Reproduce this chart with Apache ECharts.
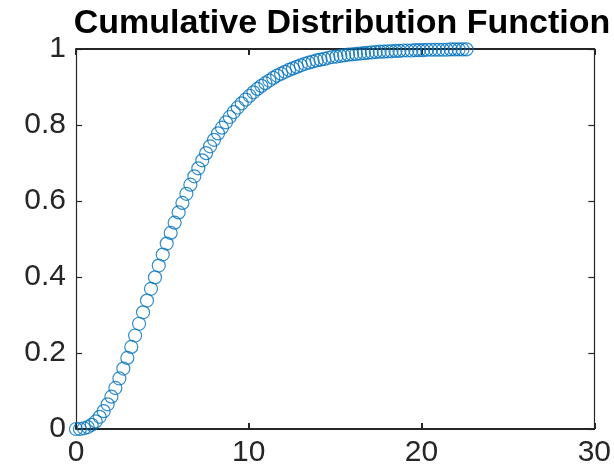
<!DOCTYPE html>
<html>
<head>
<meta charset="utf-8">
<script src="https://cdn.jsdelivr.net/npm/echarts@6/dist/echarts.min.js"></script>
<style>
  html, body { margin: 0; padding: 0; background: #fff; }
  #chart { width: 614px; height: 474px; }
</style>
</head>
<body>
<div id="chart"></div>
<script>
// Sample points of the cumulative distribution
const xValues = [
  0, 0.23, 0.46, 0.68, 0.91, 1.14, 1.37, 1.60, 1.83, 2.05,
  2.28, 2.51, 2.74, 2.97, 3.20, 3.42, 3.65, 3.88, 4.11, 4.34,
  4.57, 4.79, 5.02, 5.25, 5.48, 5.71, 5.94, 6.16, 6.39, 6.62,
  6.85, 7.08, 7.31, 7.53, 7.76, 7.99, 8.22, 8.45, 8.68, 8.90,
  9.13, 9.36, 9.59, 9.82, 10.05, 10.27, 10.50, 10.73, 10.96, 11.19,
  11.42, 11.64, 11.87, 12.10, 12.33, 12.56, 12.78, 13.01, 13.24, 13.47,
  13.70, 13.93, 14.15, 14.38, 14.61, 14.84, 15.07, 15.30, 15.52, 15.75,
  15.98, 16.21, 16.44, 16.67, 16.89, 17.12, 17.35, 17.58, 17.81, 18.04,
  18.26, 18.49, 18.72, 18.95, 19.18, 19.41, 19.63, 19.86, 20.09, 20.32,
  20.55, 20.78, 21.00, 21.23, 21.46, 21.69, 21.92, 22.15, 22.37, 22.60
];
const cdfValues = [
  0.000, 0.000, 0.002, 0.005, 0.011, 0.020, 0.032, 0.047, 0.065, 0.085,
  0.108, 0.133, 0.159, 0.187, 0.216, 0.246, 0.277, 0.307, 0.338, 0.369,
  0.399, 0.430, 0.459, 0.488, 0.516, 0.543, 0.570, 0.595, 0.619, 0.643,
  0.665, 0.686, 0.707, 0.726, 0.744, 0.761, 0.778, 0.793, 0.807, 0.821,
  0.834, 0.846, 0.857, 0.867, 0.877, 0.886, 0.895, 0.903, 0.910, 0.917,
  0.924, 0.930, 0.935, 0.940, 0.945, 0.949, 0.953, 0.957, 0.961, 0.964,
  0.967, 0.970, 0.972, 0.974, 0.977, 0.979, 0.980, 0.982, 0.983, 0.985,
  0.986, 0.987, 0.988, 0.989, 0.990, 0.991, 0.992, 0.993, 0.993, 0.994,
  0.994, 0.995, 0.995, 0.996, 0.996, 0.996, 0.997, 0.997, 0.997, 0.998,
  0.998, 0.998, 0.998, 0.998, 0.998, 0.999, 0.999, 0.999, 0.999, 0.999
];
const xTicks = { min: 0, max: 30, step: 10 };
const yTicks = { min: 0, max: 1, step: 0.2 };
const titleText = 'Cumulative Distribution Function';

const points = xValues.map((x, i) => [x, cdfValues[i]]);

const ink = '#262626';
const font = 'Liberation Sans, Arial, Helvetica, sans-serif';

function xAxisSpec(position, showLabels) {
  return {
    type: 'value', position: position,
    min: xTicks.min, max: xTicks.max, interval: xTicks.step,
    axisLine: { show: true, onZero: false, lineStyle: { color: ink, width: 2 } },
    axisTick: { show: true, inside: true, length: 6, lineStyle: { color: ink, width: 2 } },
    axisLabel: { show: showLabels, fontSize: 30, color: ink, fontFamily: font, margin: 9 },
    splitLine: { show: false }
  };
}
function yAxisSpec(position, showLabels) {
  return {
    type: 'value', position: position,
    min: yTicks.min, max: yTicks.max, interval: yTicks.step,
    axisLine: { show: true, onZero: false, lineStyle: { color: ink, width: 1.2 } },
    axisTick: { show: true, inside: true, length: 6, lineStyle: { color: ink, width: 1.2 } },
    axisLabel: {
      show: showLabels, fontSize: 30, color: ink, fontFamily: font, margin: 10,
      formatter: v => String(Math.round(v * 10) / 10)
    },
    splitLine: { show: false }
  };
}

const chart = echarts.init(document.getElementById('chart'), null, { renderer: 'canvas' });
chart.setOption({
  animation: false,
  backgroundColor: '#fff',
  title: {
    text: titleText, left: 337, top: 2, textAlign: 'center',
    textStyle: { fontSize: 34, fontWeight: 'bold', color: '#000', fontFamily: font }
  },
  grid: { left: 76, right: 15, top: 49, bottom: 45, containLabel: false },
  xAxis: [xAxisSpec('bottom', true), xAxisSpec('top', false)],
  yAxis: [yAxisSpec('left', true), yAxisSpec('right', false)],
  series: [{
    type: 'scatter',
    data: points,
    symbol: 'circle',
    symbolSize: 13,
    itemStyle: { color: 'rgba(0,0,0,0)', borderColor: '#0072BD', borderWidth: 1.2 },
    clip: false
  }]
});
</script>
</body>
</html>
